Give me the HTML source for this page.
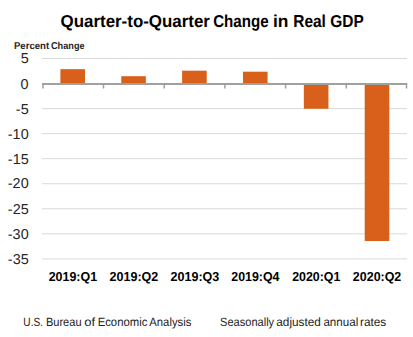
<!DOCTYPE html>
<html><head><meta charset="utf-8">
<style>
html,body{margin:0;padding:0;background:#fff;}
body{width:413px;height:337px;position:relative;overflow:hidden;font-family:"Liberation Sans",sans-serif;}
.t{position:absolute;white-space:nowrap;line-height:1;transform-origin:0 0;text-rendering:geometricPrecision;}
svg{position:absolute;left:0;top:0;}
</style></head><body>
<svg width="413" height="337" viewBox="0 0 413 337">
<g fill="#D9D9D9"><rect x="42" y="58.00" width="365" height="1"/><rect x="42" y="108.10" width="365" height="1"/><rect x="42" y="133.15" width="365" height="1"/><rect x="42" y="158.20" width="365" height="1"/><rect x="42" y="183.25" width="365" height="1"/><rect x="42" y="208.30" width="365" height="1"/><rect x="42" y="233.35" width="365" height="1"/><rect x="42" y="258.40" width="365" height="1"/></g>
<g fill="#D9601A"><rect x="60.40" y="69.17" width="24.6" height="14.53"/><rect x="121.26" y="76.19" width="24.6" height="7.51"/><rect x="182.12" y="70.67" width="24.6" height="13.03"/><rect x="242.98" y="71.68" width="24.6" height="12.02"/><rect x="303.84" y="83.70" width="24.6" height="25.05"/><rect x="364.70" y="83.70" width="24.6" height="157.31"/></g>
<g fill="#A0A0A0"><rect x="42" y="83" width="365.2" height="2"/><rect x="42.25" y="83" width="1.5" height="5.5"/><rect x="102.75" y="83" width="1.5" height="5.5"/><rect x="163.45" y="83" width="1.5" height="5.5"/><rect x="224.15" y="83" width="1.5" height="5.5"/><rect x="284.85" y="83" width="1.5" height="5.5"/><rect x="345.55" y="83" width="1.5" height="5.5"/><rect x="405.75" y="83" width="1.5" height="5.5"/></g>
</svg>
<div class="t" style="left:60px;top:13.03px;font-size:17.32px;font-weight:bold;color:#000;transform:scaleX(0.9763);"><span style="position:relative;left:0.584px">Quarter-to-Quarter</span></div>
<div class="t" style="left:213px;top:13.03px;font-size:17.32px;font-weight:bold;color:#000;transform:scaleX(0.8730);"><span style="position:relative;left:0.241px">Change</span></div>
<div class="t" style="left:272px;top:13.03px;font-size:17.32px;font-weight:bold;color:#000;transform:scaleX(1.0063);"><span style="position:relative;left:0.950px">in</span></div>
<div class="t" style="left:293px;top:13.03px;font-size:17.32px;font-weight:bold;color:#000;transform:scaleX(0.8930);"><span style="position:relative;left:0.296px">Real GDP</span></div>
<div class="t" style="left:13px;top:41.78px;font-size:9.92px;font-weight:bold;color:#262626;transform:scaleX(0.9713);"><span style="position:relative;left:0.907px">Percent</span></div>
<div class="t" style="left:50px;top:41.78px;font-size:9.92px;font-weight:bold;color:#262626;transform:scaleX(0.9248);"><span style="position:relative;left:1.068px">Change</span></div>
<div class="t" style="left:20px;top:52.36px;font-size:14.38px;font-weight:normal;color:#262626;transform:scaleX(1.0000);"><span style="position:relative;left:0.637px">5</span></div>
<div class="t" style="left:20px;top:77.76px;font-size:14.43px;font-weight:normal;color:#262626;transform:scaleX(1.0000);"><span style="position:relative;left:0.606px">0</span></div>
<div class="t" style="left:15px;top:103.18px;font-size:14.42px;font-weight:normal;color:#262626;transform:scaleX(1.0000);"><span style="position:relative;left:0.842px">-5</span></div>
<div class="t" style="left:7px;top:127.60px;font-size:14.43px;font-weight:normal;color:#262626;transform:scaleX(1.0000);"><span style="position:relative;left:0.824px">-10</span></div>
<div class="t" style="left:7px;top:153.02px;font-size:14.42px;font-weight:normal;color:#262626;transform:scaleX(1.0000);"><span style="position:relative;left:0.842px">-15</span></div>
<div class="t" style="left:7px;top:177.44px;font-size:14.43px;font-weight:normal;color:#262626;transform:scaleX(1.0000);"><span style="position:relative;left:0.824px">-20</span></div>
<div class="t" style="left:7px;top:202.86px;font-size:14.42px;font-weight:normal;color:#262626;transform:scaleX(1.0000);"><span style="position:relative;left:0.842px">-25</span></div>
<div class="t" style="left:7px;top:228.28px;font-size:14.43px;font-weight:normal;color:#262626;transform:scaleX(1.0000);"><span style="position:relative;left:0.824px">-30</span></div>
<div class="t" style="left:7px;top:252.70px;font-size:14.42px;font-weight:normal;color:#262626;transform:scaleX(1.0000);"><span style="position:relative;left:0.842px">-35</span></div>
<div class="t" style="left:48px;top:271.25px;font-size:12.97px;font-weight:bold;color:#000;transform:scaleX(0.9600);"><span style="position:relative;left:0.695px">2019:Q1</span></div>
<div class="t" style="left:109px;top:271.25px;font-size:12.97px;font-weight:bold;color:#000;transform:scaleX(0.9663);"><span style="position:relative;left:0.579px">2019:Q2</span></div>
<div class="t" style="left:170px;top:271.25px;font-size:12.97px;font-weight:bold;color:#000;transform:scaleX(0.9661);"><span style="position:relative;left:0.577px">2019:Q3</span></div>
<div class="t" style="left:231px;top:271.25px;font-size:12.97px;font-weight:bold;color:#000;transform:scaleX(0.9552);"><span style="position:relative;left:0.296px">2019:Q4</span></div>
<div class="t" style="left:292px;top:271.25px;font-size:12.97px;font-weight:bold;color:#000;transform:scaleX(0.9561);"><span style="position:relative;left:0.169px">2020:Q1</span></div>
<div class="t" style="left:352px;top:271.25px;font-size:12.97px;font-weight:bold;color:#000;transform:scaleX(0.9594);"><span style="position:relative;left:0.911px">2020:Q2</span></div>
<div class="t" style="left:23px;top:316.69px;font-size:11.97px;font-weight:normal;color:#222;transform:scaleX(0.8399);"><span style="position:relative;left:0.444px">U.S.</span></div>
<div class="t" style="left:45px;top:316.69px;font-size:11.97px;font-weight:normal;color:#222;transform:scaleX(0.9238);"><span style="position:relative;left:0.965px">Bureau</span></div>
<div class="t" style="left:84px;top:316.69px;font-size:11.97px;font-weight:normal;color:#222;transform:scaleX(1.0878);"><span style="position:relative;left:0.189px">of</span></div>
<div class="t" style="left:97px;top:316.69px;font-size:11.97px;font-weight:normal;color:#222;transform:scaleX(0.9457);"><span style="position:relative;left:0.685px">Economic</span></div>
<div class="t" style="left:149px;top:316.69px;font-size:11.97px;font-weight:normal;color:#222;transform:scaleX(0.9427);"><span style="position:relative;left:0.355px">Analysis</span></div>
<div class="t" style="left:220px;top:316.69px;font-size:11.97px;font-weight:normal;color:#222;transform:scaleX(0.9220);"><span style="position:relative;left:0.136px">Seasonally</span></div>
<div class="t" style="left:276px;top:316.69px;font-size:11.97px;font-weight:normal;color:#222;transform:scaleX(0.9848);"><span style="position:relative;left:0.307px">adjusted</span></div>
<div class="t" style="left:323px;top:316.69px;font-size:11.97px;font-weight:normal;color:#222;transform:scaleX(0.9692);"><span style="position:relative;left:0.422px">annual</span></div>
<div class="t" style="left:360px;top:316.69px;font-size:11.97px;font-weight:normal;color:#222;transform:scaleX(0.9855);"><span style="position:relative;left:0.045px">rates</span></div>
</body></html>
